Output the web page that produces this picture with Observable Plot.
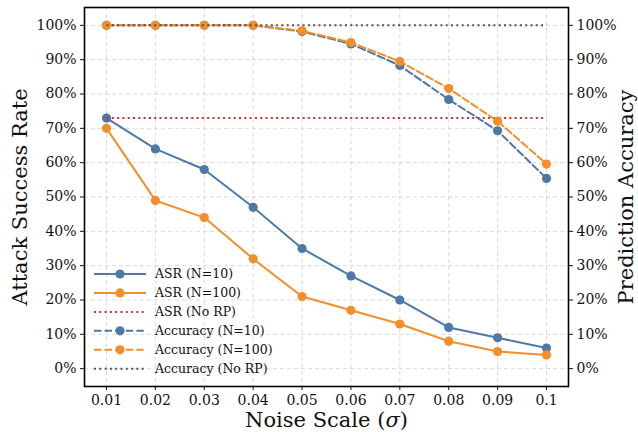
<!DOCTYPE html>
<html>
<head>
<meta charset="utf-8">
<script src="https://cdn.jsdelivr.net/npm/d3@7"></script>
<script src="https://cdn.jsdelivr.net/npm/@observablehq/plot@0.6"></script>
<style>
  html, body { margin: 0; padding: 0; background: #fff; }
  #chart svg { display: block; }
</style>
</head>
<body>
<div id="chart"></div>
<script>
// Noise scale (sigma) values on the x axis
const sigma = [0.01, 0.02, 0.03, 0.04, 0.05, 0.06, 0.07, 0.08, 0.09, 0.1];

// Attack success rate (%) with random projection
const asrN10  = [73, 64, 58, 47, 35, 27, 20, 12, 9, 6];
const asrN100 = [70, 49, 44, 32, 21, 17, 13, 8, 5, 4];
// Attack success rate without random projection (%)
const asrNoRP = 73;

// Prediction accuracy (%) with random projection
const accN10  = [100, 100, 100, 100, 98.2, 94.6, 88.3, 78.4, 69.3, 55.4];
const accN100 = [100, 100, 100, 100, 98.4, 95.0, 89.5, 81.6, 72.1, 59.6];
// Prediction accuracy without random projection (%)
const accNoRP = 100;

const percentTicks = [0, 10, 20, 30, 40, 50, 60, 70, 80, 90, 100];

const FONT = "DejaVu Serif";
const C = {
  blue: "#4e79a7",
  orange: "#f28e2b",
  red: "#e3262b",
  brown: "#6b4c3f"
};

const series = (ys) => sigma.map((x, i) => ({x, y: ys[i]}));
const flat = (v) => [{x: sigma[0], y: v}, {x: sigma[sigma.length - 1], y: v}];

const dashed = "7.4,3.2";
const dotted = "2,3.3";

// Legend entries, in drawing order
const legendItems = [
  {label: "ASR (N=10)",         color: C.blue,   dash: null,   marker: true},
  {label: "ASR (N=100)",        color: C.orange, dash: null,   marker: true},
  {label: "ASR (No RP)",        color: C.red,    dash: dotted, marker: false},
  {label: "Accuracy (N=10)",    color: C.blue,   dash: dashed, marker: true},
  {label: "Accuracy (N=100)",   color: C.orange, dash: dashed, marker: true},
  {label: "Accuracy (No RP)",   color: C.brown,  dash: dotted, marker: false}
];

const fmtX = (d) => String(+d.toFixed(2));
const fmtP = (d) => d + "%";

const chart = Plot.plot({
  width: 638,
  height: 432,
  marginLeft: 84,
  marginRight: 70,
  marginTop: 7,
  marginBottom: 46,
  style: {fontFamily: FONT, fontSize: "14px", color: "#111", background: "#fff"},
  x: {domain: [0.0055, 0.1045]},
  y: {domain: [-5.2, 105.2]},
  marks: [
    Plot.gridX(sigma, {stroke: "#c4c4c4", strokeOpacity: 0.7, strokeDasharray: "4,3", strokeWidth: 0.9}),
    Plot.gridY(percentTicks, {stroke: "#c4c4c4", strokeOpacity: 0.7, strokeDasharray: "4,3", strokeWidth: 0.9}),

    Plot.axisX(sigma, {tickFormat: fmtX, tickSize: 4, tickPadding: 5, fontSize: 14, label: null}),
    Plot.axisY(percentTicks, {anchor: "left", tickFormat: fmtP, tickSize: 4, tickPadding: 4, fontSize: 14, label: null}),
    Plot.axisY(percentTicks, {anchor: "right", tickFormat: fmtP, tickSize: 4, tickPadding: 4, fontSize: 14, label: null}),

    // ASR with random projection
    Plot.line(series(asrN10), {x: "x", y: "y", stroke: C.blue, strokeWidth: 2}),
    Plot.dot(series(asrN10), {x: "x", y: "y", fill: C.blue, r: 4.6}),
    Plot.line(series(asrN100), {x: "x", y: "y", stroke: C.orange, strokeWidth: 2}),
    Plot.dot(series(asrN100), {x: "x", y: "y", fill: C.orange, r: 4.6}),
    Plot.line(flat(asrNoRP), {x: "x", y: "y", stroke: C.red, strokeWidth: 2, strokeDasharray: dotted, strokeLinecap: "butt"}),

    // Prediction accuracy
    Plot.line(series(accN10), {x: "x", y: "y", stroke: C.blue, strokeWidth: 2, strokeDasharray: dashed}),
    Plot.dot(series(accN10), {x: "x", y: "y", fill: C.blue, r: 4.6}),
    Plot.line(series(accN100), {x: "x", y: "y", stroke: C.orange, strokeWidth: 2, strokeDasharray: dashed}),
    Plot.dot(series(accN100), {x: "x", y: "y", fill: C.orange, r: 4.6}),
    Plot.line(flat(accNoRP), {x: "x", y: "y", stroke: C.brown, strokeWidth: 2, strokeDasharray: dotted, strokeLinecap: "butt"}),

    // Axis titles
    Plot.text(["Attack Success Rate"], {frameAnchor: "left", dx: -64, rotate: -90, fontSize: 21, fill: "#111", textAnchor: "middle", lineAnchor: "middle"}),
    Plot.text(["Prediction Accuracy"], {frameAnchor: "right", dx: 58, rotate: -90, fontSize: 21, fill: "#111", textAnchor: "middle", lineAnchor: "middle"}),
    Plot.text(["Noise Scale (σ)"], {frameAnchor: "bottom", dy: 34, fontSize: 21, fill: "#111", textAnchor: "middle", lineAnchor: "middle", className: "xtitle"}),

    Plot.frame({stroke: "#000", strokeWidth: 1.6})
  ]
});

document.getElementById("chart").appendChild(chart);

// Italic sigma inside the x-axis title
d3.select(chart).selectAll("g.xtitle text").each(function () {
  const t = d3.select(this);
  t.text(null);
  t.append("tspan").text("Noise Scale (");
  t.append("tspan").attr("font-style", "italic").text("σ");
  t.append("tspan").text(")");
});

// Legend in the lower-left corner of the plot area (no frame)
const svg = d3.select(chart);
const lg = svg.append("g")
  .attr("font-family", FONT)
  .attr("font-size", 12.5)
  .attr("text-anchor", "start")
  .attr("transform", "translate(94, 274)");
legendItems.forEach((item, i) => {
  const row = lg.append("g").attr("transform", `translate(0, ${i * 18.95})`);
  row.append("line")
    .attr("x1", 0).attr("x2", 52).attr("y1", 0).attr("y2", 0)
    .attr("stroke", item.color).attr("stroke-width", 2)
    .attr("stroke-dasharray", item.dash);
  if (item.marker) {
    row.append("circle").attr("cx", 26).attr("cy", 0).attr("r", 4.6).attr("fill", item.color);
  }
  row.append("text")
    .attr("x", 61).attr("y", 0).attr("dy", "0.35em")
    .attr("text-anchor", "start")
    .attr("fill", "#111")
    .text(item.label);
});
</script>
</body>
</html>
